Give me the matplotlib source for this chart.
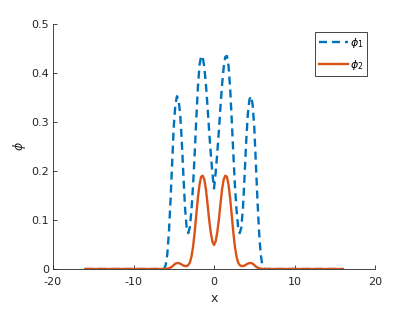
import numpy as np
import matplotlib
matplotlib.use("Agg")
import matplotlib.pyplot as plt

# sample positions
x_grid = [-16.0] + [round(-6.4 + 0.2 * i, 1) for i in range(65)] + [16.0]

phi1 = [0.0,
        0.0, 0.0, 0.008, 0.03, 0.075, 0.14, 0.215, 0.29, 0.335, 0.352, 0.345, 0.315, 0.26,
        0.19, 0.125, 0.085, 0.073, 0.085, 0.12, 0.17, 0.235, 0.305, 0.37, 0.415, 0.434,
        0.432, 0.41, 0.375, 0.33, 0.28, 0.235, 0.195,
        0.164,
        0.195, 0.235, 0.28, 0.33, 0.375, 0.41, 0.432, 0.434, 0.415, 0.37, 0.305, 0.235,
        0.17, 0.12, 0.085, 0.073, 0.085, 0.125, 0.19, 0.26, 0.315, 0.345, 0.352, 0.335,
        0.29, 0.215, 0.14, 0.075, 0.03, 0.008, 0.0, 0.0,
        0.0]

phi2 = [0.0,
        0.0, 0.0001, 0.0003, 0.0007, 0.0015, 0.003, 0.005, 0.008, 0.011, 0.012, 0.012,
        0.011, 0.009, 0.007, 0.006, 0.006, 0.008, 0.013, 0.025, 0.045, 0.075, 0.11, 0.145,
        0.172, 0.188, 0.19, 0.182, 0.162, 0.132, 0.10, 0.074, 0.056,
        0.049,
        0.056, 0.074, 0.10, 0.132, 0.162, 0.182, 0.19, 0.188, 0.172, 0.145, 0.11, 0.075,
        0.045, 0.025, 0.013, 0.008, 0.006, 0.006, 0.007, 0.009, 0.011, 0.012, 0.012, 0.011,
        0.008, 0.005, 0.003, 0.0015, 0.0007, 0.0003, 0.0001, 0.0,
        0.0]

x_ticks = [-20, -10, 0, 10, 20]
y_ticks = [0, 0.1, 0.2, 0.3, 0.4, 0.5]
labels = [r'$\phi_1$', r'$\phi_2$']

plt.rcParams['font.family'] = ['DejaVu Sans']
plt.rcParams['mathtext.fontset'] = 'dejavusans'

fig = plt.figure(figsize=(4.15, 3.12), dpi=100)
ax = fig.add_axes([53 / 415, 43 / 312, 322 / 415, 245.5 / 312])

dark = '#262626'
ax.plot(x_grid, phi1, color='#0072BD', lw=1.7, linestyle=(0, (3.4, 2.1)), label=labels[0])
ax.plot(x_grid, phi2, color='#D95319', lw=1.7, label=labels[1])

ax.set_xlim(-20, 20)
ax.set_ylim(0, 0.5)
ax.set_xticks(x_ticks)
ax.set_yticks(y_ticks)
ax.set_xticklabels([str(t) for t in x_ticks])
ax.set_yticklabels(['0', '0.1', '0.2', '0.3', '0.4', '0.5'])
for s in ['top', 'right']:
    ax.spines[s].set_visible(False)
for s in ['left', 'bottom']:
    ax.spines[s].set_color(dark)
    ax.spines[s].set_linewidth(0.6)
ax.tick_params(direction='in', length=3, width=0.6, colors=dark, labelsize=8, pad=3)
ax.tick_params(axis='x', pad=6)
ax.set_xlabel('x', fontsize=9, color=dark, labelpad=3)
ax.set_ylabel(r'$\phi$', fontsize=9, color=dark, labelpad=2)

leg = ax.legend(loc='upper right', bbox_to_anchor=(367 / 415, 1 - 32 / 312),
                bbox_transform=fig.transFigure, borderaxespad=0, fontsize=8,
                fancybox=False, framealpha=1, edgecolor=dark, handlelength=2.6,
                handletextpad=0.15, borderpad=0.35, labelspacing=0.75)
leg.get_frame().set_linewidth(0.6)

fig.savefig('out.png', dpi=100)
